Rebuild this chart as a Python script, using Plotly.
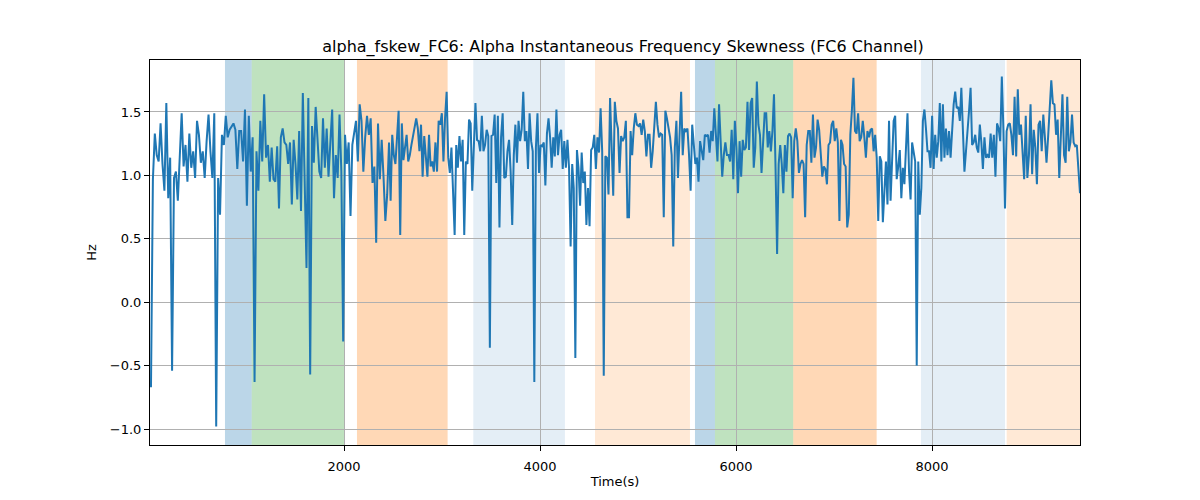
import numpy as np
import plotly.graph_objects as go

# ---- data ----
# segment boundaries (time, s); values inside each segment are evenly sampled
seg_bounds = [30, 1224, 2459, 3684, 4908, 6133, 7357, 8582, 9510]

seg1 = [-0.67, 0.97, 1.33, 1.16, 1.11, 1.41, 1.09, 0.88, 1.57, 0.82, 1.14, -0.54, 0.98, 1.03, 0.80,
        1.22, 1.49, 1.07, 1.24, 0.95, 1.33, 1.06, 1.19, 0.98, 1.43, 1.32, 1.10, 1.19, 0.98, 1.27,
        1.48, 1.19, 0.98, 1.49, -0.98, 0.98, 0.69, 1.32, 1.24, 1.47, 1.30, 1.36, 1.39, 1.41, 1.36,
        1.05, 1.35, 1.35, 1.11, 1.52, 0.76, 1.47, 1.03, 1.30, -0.63, 1.19, 0.88, 1.43, 1.11, 1.64,
        1.14]
seg2 = [1.24, 0.95, 1.22, 0.97, 0.95, 1.23, 0.74, 1.30, 1.37, 1.26, 1.24, 1.09, 1.26, 0.77,
        1.28, 1.09, 0.81, 1.35, 0.72, 1.65, 1.06, 0.27, 1.61, -0.57, 1.39, 1.10, 1.54, 1.27, 1.03,
        0.98, 1.45, 1.06, 1.37, 0.99, 1.22, 1.52, 0.82, 1.16, 0.98, 1.48, 1.03, -0.31, 1.32, 1.09,
        1.26, 0.68, 1.24, 1.35, 1.43, 1.11, 1.56, 1.43, 1.03, 1.30, 1.47, 1.32, 1.45, 0.94, 1.07,
        0.47, 1.41, 0.97, 1.28, 0.99, 0.64, 0.85]
seg3 = [1.26, 0.80, 1.32, 1.16, 1.09, 1.30, 1.51, 0.53, 1.41, 1.12, 1.24, 1.32, 1.11, 1.16, 1.24,
        1.32, 1.39, 1.45, 1.37, 1.19, 1.40, 0.99, 1.31, 1.16, 0.99, 1.32, 1.07, 1.11, 1.03, 1.26,
        1.03, 1.43, 1.40, 1.49, 1.11, 1.45, 1.66, 1.14, 1.02, 1.22, 0.77, 0.53, 1.24, 1.06, 1.31,
        1.11, 1.28, 0.53, 1.11, 1.09, 1.44, 1.41, 0.88, 1.27, 1.57, 1.28, 1.27, 1.19, 1.47, 1.19,
        1.24, 1.36, 1.31, -0.36, 1.31, 1.32, 1.48, 0.94, 1.47, 0.59, 1.30, 1.49, 0.98, 0.99, 1.19]
seg4 = [1.28, 1.03, 0.61, 1.16, 1.40, 1.10, 1.43, 1.27, 1.36, 1.66, 1.27, 1.35, 1.05, 1.49, 1.27,
        1.19, -0.63, 1.22, 1.49, 1.02, 1.24, 1.23, 1.26, 0.92, 1.33, 1.45, 1.30, 1.06, 1.30, 1.15,
        1.52, 1.16, 1.32, 1.36, 1.05, 1.27, 1.06, 1.28, 1.06, 0.44, 1.09, 0.90, -0.44, 1.20, 1.06,
        0.76, 1.18, 0.94, 1.03, 0.61, 0.90, 0.60, 1.20, 1.22, 1.32, 1.05, 1.30, 1.18, 1.53, 1.19,
        -0.58, 1.15, 1.14, 0.85, 1.61, 1.16, 0.84, 1.58, 1.43, 1.37, 1.02, 1.31, 1.27, 1.30, 1.43,
        0.67]
seg5 = [0.67, 1.35, 1.16, 1.37, 1.49, 1.40, 1.39, 1.41, 1.32, 1.44, 1.35, 1.15, 1.32, 1.32, 1.06,
        1.19, 1.40, 1.58, 1.40, 1.30, 1.33, 1.32, 0.67, 1.51, 1.45, 1.37, 1.30, 1.16, 0.44, 1.22,
        1.43, 0.98, 1.30, 1.66, 1.16, 1.37, 1.35, 1.37, 1.16, 0.88, 1.40, 1.22, 1.09, 1.14, 0.95,
        1.27, 1.19, 1.12, 1.32, 1.31, 1.32, 1.18, 1.35, 1.27, 1.53, 1.35, 1.11, 1.56, 1.22, 0.99,
        1.16, 1.26, 1.16, 1.16, 1.11, 1.36, 0.97, 1.43, 1.22, 0.86, 1.27, 0.99, 1.28, 1.20, 1.22,
        1.58]
seg6 = [1.20, 1.57, 1.61, 1.06, 1.22, 1.74, 1.40, 1.32, 1.02, 1.30, 1.49, 1.49, 1.22, 1.35, 1.19,
        1.35, 1.64, 1.06, 0.38, 1.09, 1.24, 1.09, 0.86, 1.24, 1.03, 1.31, 1.33, 1.30, 0.82, 1.27,
        1.37, 1.27, 1.02, 1.09, 1.12, 1.09, 0.67, 1.24, 1.35, 1.35, 1.10, 1.48, 1.14, 1.22, 1.44,
        1.36, 1.16, 0.99, 1.07, 1.05, 0.93, 1.24, 1.26, 1.40, 1.43, 1.27, 1.37, 1.26, 0.64, 1.28,
        1.24, 1.09, 1.07, 0.59, 0.69, 1.32, 1.51, 1.77, 1.35, 1.33, 1.49, 1.27, 1.30, 1.43, 1.30,
        1.14, 1.35]
seg7 = [1.30, 1.36, 1.37, 1.19, 1.32, 1.14, 0.64, 1.15, 1.11, 0.63, 0.90, 1.11, 0.77, 1.43, 0.80,
        1.16, 1.43, 1.47, 0.97, 1.07, 1.20, 0.82, 1.06, 0.93, 1.27, 1.49, 1.03, 0.81, 1.26, 1.18,
        1.11, -0.50, 1.11, 0.69, 0.90, 1.43, 1.52, 1.37, 1.19, 1.19, 1.06, 1.47, 1.05, 1.32, 1.14,
        1.27, 1.57, 1.11, 1.56, 1.14, 1.37, 1.16, 1.35, 1.14, 1.37, 1.56, 1.66, 1.53, 1.54, 1.43,
        1.69, 1.35, 1.03, 1.19, 1.40, 1.51, 1.69, 1.24, 1.26, 1.32, 1.22, 1.18, 1.40, 1.26, 1.05,
        1.30, 1.14, 1.16]
seg8 = [1.14, 1.33, 1.14, 1.32, 0.99, 1.41, 1.37, 1.27, 1.78, 1.36, 0.74, 1.35, 1.40, 1.41, 1.32,
        1.16, 1.62, 1.15, 1.68, 1.32, 1.40, 1.22, 0.97, 1.47, 0.98, 1.16, 1.56, 1.01, 1.36, 1.22,
        0.93, 1.40, 1.43, 1.19, 1.48, 1.30, 1.10, 1.30, 1.49, 1.75, 1.57, 1.56, 1.32, 1.44, 0.98,
        1.31, 1.64, 1.16, 1.10, 1.62, 1.19, 1.26, 1.48, 1.26, 1.23, 1.24, 1.01, 0.86]

segments = [seg1, seg2, seg3, seg4, seg5, seg6, seg7, seg8]

# shaded periods: (start, end, colour name, opacity)
span_starts = [785, 1058, 2132, 3319, 4561, 5581, 5785, 6584, 7887, 8762]
span_ends   = [1058, 2003, 3057, 4254, 5530, 5785, 6584, 7435, 8745, 9510]
span_kinds  = ["blue", "green", "orange", "lightblue", "lightorange",
               "blue", "green", "orange", "lightblue", "lightorange"]

title_text = "alpha_fskew_FC6: Alpha Instantaneous Frequency Skewness (FC6 Channel)"
x_label = "Time(s)"
y_label = "Hz"
x_ticks = [2000, 4000, 6000, 8000]
y_ticks = [-1.0, -0.5, 0.0, 0.5, 1.0, 1.5]

# ---- build series ----
times, values = [], []
for i, seg in enumerate(segments):
    last = i == len(segments) - 1
    t = np.linspace(seg_bounds[i], seg_bounds[i + 1], len(seg), endpoint=last)
    times.extend(t.tolist())
    values.extend(seg)

span_colors = {
    "blue": "rgba(31,119,180,0.30)",
    "green": "rgba(44,160,44,0.30)",
    "orange": "rgba(255,127,14,0.30)",
    "lightblue": "rgba(31,119,180,0.12)",
    "lightorange": "rgba(255,127,14,0.17)",
}

fig = go.Figure()
fig.add_trace(go.Scatter(x=times, y=values, mode="lines",
                         line=dict(color="#1f77b4", width=2), showlegend=False))

for s, e, k in zip(span_starts, span_ends, span_kinds):
    fig.add_vrect(x0=s, x1=e, fillcolor=span_colors[k], line_width=0, layer="below")

font = "DejaVu Sans, sans-serif"
fig.update_layout(
    width=1200, height=500,
    paper_bgcolor="white", plot_bgcolor="white",
    margin=dict(l=142, r=128, t=52, b=63),
    title=dict(text=title_text, x=0.5125, xanchor="center", y=0.924, yanchor="middle",
               font=dict(family=font, size=16, color="black")),
    font=dict(family=font, size=13, color="black"),
)
fig.update_xaxes(
    range=[20, 9510], tickvals=x_ticks, ticktext=[str(v) for v in x_ticks],
    showgrid=True, gridcolor="#b0b0b0", gridwidth=1,
    showline=True, linecolor="black", linewidth=1, mirror=True,
    ticks="outside", ticklen=5, tickcolor="black", zeroline=False,
    ticklabelstandoff=4,
    title=dict(text=x_label, font=dict(family=font, size=13), standoff=4),
)
fig.update_yaxes(
    range=[-1.126, 1.91], tickvals=y_ticks, ticktext=[f"{v:.1f}".replace("-", "\u2212") for v in y_ticks],
    showgrid=True, gridcolor="#b0b0b0", gridwidth=1,
    showline=True, linecolor="black", linewidth=1, mirror=True,
    ticks="outside", ticklen=5, tickcolor="black", zeroline=False,
    title=dict(text=y_label, font=dict(family=font, size=13), standoff=10),
)

fig.write_html("out.html")
